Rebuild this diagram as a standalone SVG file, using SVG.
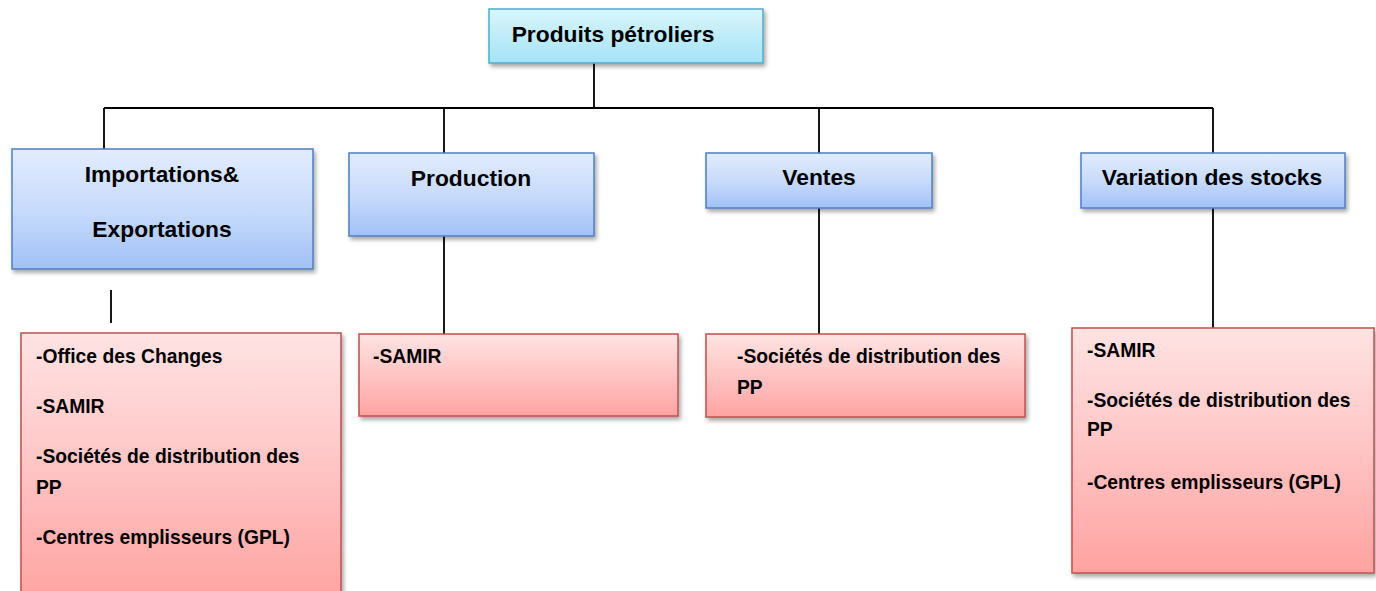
<svg xmlns="http://www.w3.org/2000/svg" width="1376" height="591" viewBox="0 0 1376 591">
<style>
text{font-family:"Liberation Sans",Arial,sans-serif;font-weight:bold;fill:#000}
.h{font-size:22.8px;text-anchor:middle}
.b{font-size:19.3px}
.blue{fill:url(#gBlue);stroke:#4f7fbf;stroke-width:1.5}
.cyan{fill:url(#gCyan);stroke:#4aaed0;stroke-width:1.5}
.red{fill:url(#gRed);stroke:#c0504d;stroke-width:1.5}
.ln{stroke:#000;stroke-width:1.8;fill:none}
</style>
<defs>
<linearGradient id="gBlue" x1="0" y1="0" x2="0" y2="1"><stop offset="0" stop-color="#e2ecfd"/><stop offset="0.5" stop-color="#c8dbfb"/><stop offset="1" stop-color="#a2c1f7"/></linearGradient>
<linearGradient id="gCyan" x1="0" y1="0" x2="0" y2="1"><stop offset="0" stop-color="#dbf5fc"/><stop offset="1" stop-color="#a3e3f6"/></linearGradient>
<linearGradient id="gRed" x1="0" y1="0" x2="0" y2="1"><stop offset="0" stop-color="#ffe3e3"/><stop offset="0.5" stop-color="#ffc4c4"/><stop offset="1" stop-color="#ffa3a1"/></linearGradient>
<filter id="sh" x="-10%" y="-10%" width="130%" height="140%"><feDropShadow dx="2" dy="3" stdDeviation="2" flood-color="#000" flood-opacity="0.35"/></filter>
</defs>
<g id="connectors">
<path class="ln" d="M594,63 V108 M104,108 H1213 M104,108 V149 M444,108 V153 M819,108 V153 M1213,108 V153"/>
<path class="ln" d="M111,290 V323 M444,236 V334 M819,208 V334 M1213,208 V328"/>
</g>
<g id="n-top"><rect class="cyan" x="489" y="9" width="274" height="54" filter="url(#sh)"/><text class="h" x="613" y="42">Produits pétroliers</text></g>
<g id="n-import"><rect class="blue" x="12" y="149" width="301" height="120" filter="url(#sh)"/><text class="h" x="162" y="182">Importations&amp;</text><text class="h" x="162" y="237">Exportations</text></g>
<g id="n-prod"><rect class="blue" x="349" y="153" width="245" height="83" filter="url(#sh)"/><text class="h" x="471" y="186">Production</text></g>
<g id="n-ventes"><rect class="blue" x="706" y="153" width="226" height="55" filter="url(#sh)"/><text class="h" x="819" y="185">Ventes</text></g>
<g id="n-var"><rect class="blue" x="1081" y="153" width="264" height="55" filter="url(#sh)"/><text class="h" x="1212" y="185">Variation des stocks</text></g>
<g id="r-import"><rect class="red" x="21" y="333" width="320" height="270" filter="url(#sh)"/>
<text class="b" x="36" y="363">-Office des Changes</text><text class="b" x="36" y="413">-SAMIR</text><text class="b" x="36" y="463">-Sociétés de distribution des</text><text class="b" x="36" y="494">PP</text><text class="b" x="36" y="544">-Centres emplisseurs (GPL)</text></g>
<g id="r-prod"><rect class="red" x="359" y="334" width="319" height="82" filter="url(#sh)"/><text class="b" x="373" y="363">-SAMIR</text></g>
<g id="r-ventes"><rect class="red" x="706" y="334" width="319" height="83" filter="url(#sh)"/><text class="b" x="737" y="363">-Sociétés de distribution des</text><text class="b" x="737" y="394">PP</text></g>
<g id="r-var"><rect class="red" x="1072" y="328" width="302" height="245" filter="url(#sh)"/><text class="b" x="1087" y="357">-SAMIR</text><text class="b" x="1087" y="407">-Sociétés de distribution des</text><text class="b" x="1087" y="436">PP</text><text class="b" x="1087" y="489">-Centres emplisseurs (GPL)</text></g>
</svg>
